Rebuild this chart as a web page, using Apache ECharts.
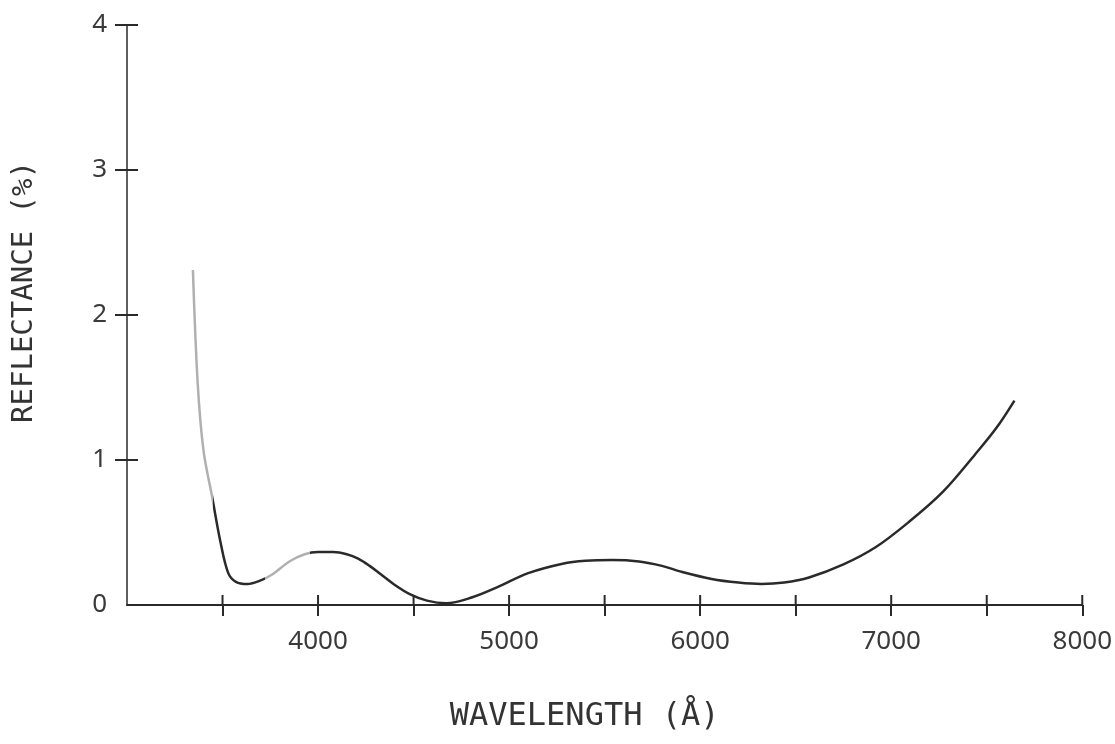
<!DOCTYPE html>
<html>
<head>
<meta charset="utf-8">
<script src="https://cdn.jsdelivr.net/npm/echarts@6/dist/echarts.min.js"></script>
<style>
    html, body { margin: 0; padding: 0; background: #fff; }
    #chart { width: 1115px; height: 744px; }
</style>
</head>
<body>
<div id="chart"></div>
<script>
'use strict';
// 读图得到的数据 (波长 Å, 反射率 %)
const wavelength = [3345, 3370, 3400, 3445, 3490, 3530, 3570, 3630, 3700, 3760, 3850, 3930, 4000, 4080, 4150, 4210,
    4270, 4330, 4400, 4480, 4570, 4670, 4800, 4950, 5100, 5280, 5400, 5540, 5680, 5800, 5900, 6060, 6200, 6320, 6440,
    6570, 6750, 6920, 7090, 7270, 7440, 7550, 7645];
const reflectance = [2.31, 1.53, 1.07, 0.75, 0.43, 0.22, 0.16, 0.145, 0.17, 0.21, 0.30, 0.35, 0.365, 0.365, 0.35, 0.32,
    0.27, 0.21, 0.14, 0.075, 0.03, 0.012, 0.05, 0.13, 0.22, 0.285, 0.305, 0.31, 0.30, 0.27, 0.23, 0.18, 0.155, 0.145, 0.155,
    0.19, 0.28, 0.40, 0.57, 0.78, 1.04, 1.22, 1.41];

const xTicks = [3500, 4000, 4500, 5000, 5500, 6000, 6500, 7000, 7500, 8000];
const xLabels = [4000, 5000, 6000, 7000, 8000];
const yTicks = [1, 2, 3, 4];
const yLabels = [0, 1, 2, 3, 4];

let initChart = (function() {
    let myChart = echarts.init(document.getElementById('chart'));

    let points = wavelength.map(function(w, i) {
        return [w, reflectance[i]];
    });

    let labelStyle = {
        fontFamily: 'Noto Sans',
        fontSize: 26,
        color: '#3a3a3a',
        formatter: function(v) { return String(v); }
    };

    let tickStyle = { color: '#2a2a2a', width: 2 };

    let option = {
        animation: false,
        backgroundColor: '#fff',
        grid: { left: 127, right: 30, top: 25, bottom: 139 },
        xAxis: {
            type: 'value',
            min: 3000,
            max: 8000,
            interval: 500,
            name: 'WAVELENGTH (Å)',
            nameLocation: 'middle',
            nameGap: 96,
            nameTextStyle: {
                fontFamily: 'DejaVu Sans Mono',
                fontSize: 32,
                color: '#333',
                padding: [0, 40, 0, 0]
            },
            splitLine: { show: false },
            axisLine: { onZero: false, lineStyle: { color: '#2a2a2a', width: 2 } },
            axisTick: { customValues: xTicks, length: 11, lineStyle: tickStyle },
            axisLabel: Object.assign({ customValues: xLabels, margin: 24 }, labelStyle)
        },
        yAxis: {
            type: 'value',
            min: 0,
            max: 4,
            interval: 1,
            name: 'REFLECTANCE (%)',
            nameLocation: 'middle',
            nameGap: 88,
            nameTextStyle: {
                fontFamily: 'DejaVu Sans Mono',
                fontSize: 29,
                color: '#333',
                padding: [0, 0, 0, 46]
            },
            splitLine: { show: false },
            axisLine: { onZero: false, lineStyle: { color: '#2a2a2a', width: 1.5 } },
            axisTick: { customValues: yTicks, length: 12, lineStyle: tickStyle },
            axisLabel: Object.assign({ customValues: yLabels, margin: 20 }, labelStyle)
        },
        // 原图中虚淡的几段
        visualMap: {
            show: false,
            type: 'piecewise',
            dimension: 0,
            seriesIndex: 0,
            pieces: [
                { lt: 3450, color: '#b0b0b0' },
                { gte: 3450, lt: 3720, color: '#2a2a2a' },
                { gte: 3720, lt: 3960, color: '#b0b0b0' },
                { gte: 3960, color: '#2a2a2a' }
            ]
        },
        series: [{
            type: 'line',
            data: points,
            smooth: 0.35,
            symbol: 'none',
            lineStyle: { width: 2.5 }
        }]
    };

    myChart.setOption(option);

    // 刻度线穿过坐标轴: 朝里的半截, 位置由坐标轴换算
    let inner = [];
    xTicks.forEach(function(t) {
        let p = myChart.convertToPixel({ gridIndex: 0 }, [t, 0]);
        inner.push({
            type: 'line',
            silent: true,
            z: 100,
            shape: { x1: p[0], y1: p[1], x2: p[0], y2: p[1] - 10 },
            style: { stroke: '#2a2a2a', lineWidth: 2 }
        });
    });
    yTicks.forEach(function(v) {
        let p = myChart.convertToPixel({ gridIndex: 0 }, [3000, v]);
        inner.push({
            type: 'line',
            silent: true,
            z: 100,
            shape: { x1: p[0], y1: p[1], x2: p[0] + 11, y2: p[1] },
            style: { stroke: '#2a2a2a', lineWidth: 2 }
        });
    });
    myChart.setOption({ graphic: inner });
})();
</script>
</body>
</html>
